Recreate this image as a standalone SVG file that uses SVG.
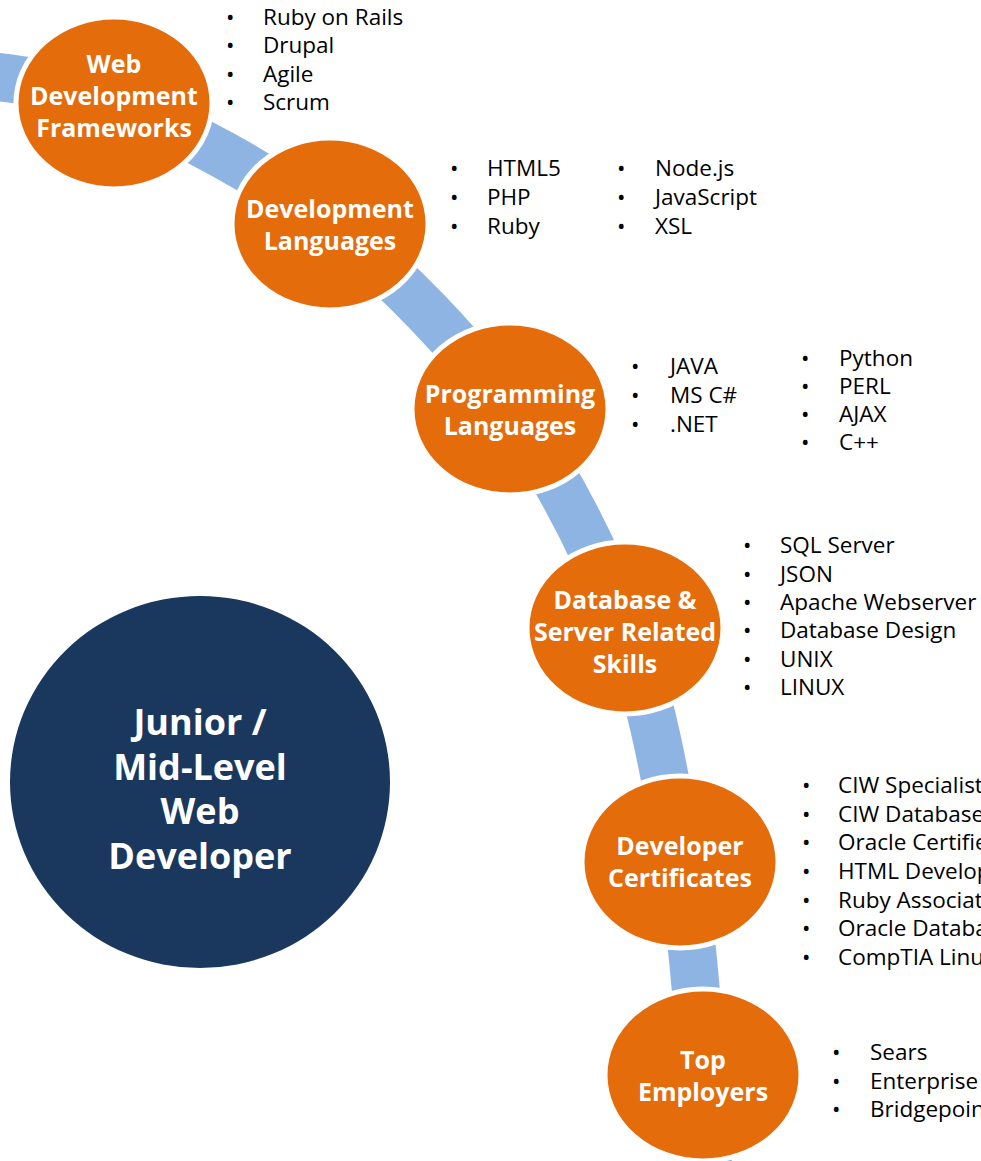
<svg xmlns="http://www.w3.org/2000/svg" width="981" height="1161" viewBox="0 0 981 1161">
<style>
.node{fill:#E46C0A;stroke:#FFFFFF;stroke-width:5}
.nt{font-family:"Open Sans","Noto Sans",sans-serif;font-weight:bold;font-size:25px;fill:#FFFFFF;text-anchor:middle}
.big{font-family:"Open Sans","Noto Sans",sans-serif;font-weight:bold;font-size:36px;fill:#FFFFFF;text-anchor:middle}
.li{font-family:"Open Sans","Noto Sans",sans-serif;font-size:22.5px;fill:#000000}
.band{fill:none;stroke:#8EB4E3;stroke-width:48}
</style>
<rect width="981" height="1161" fill="#FFFFFF"/>
<g id="connectors">
<path class="band" d="M -60 70 C -31 75.5 49 77.3 114 103 C 179 128.7 264 172.8 330 224 C 396 275.2 460.8 342.7 510 410 C 559.2 477.3 596.7 552.7 625 628 C 653.3 703.3 667 787.5 680 862 C 693 936.5 697.2 1010.3 703 1075 L 710 1200"/>
</g>
<g id="main">
<ellipse cx="200" cy="782" rx="190" ry="186" fill="#1A375E"/>
<text class="big" x="200" y="735">Junior /</text>
<text class="big" x="200" y="780">Mid-Level</text>
<text class="big" x="200" y="824">Web</text>
<text class="big" x="200" y="869">Developer</text>
</g>
<g id="web-frameworks">
<ellipse class="node" cx="114" cy="103" rx="98" ry="86"/>
<text class="nt" x="114" y="73">Web</text>
<text class="nt" x="114" y="105">Development</text>
<text class="nt" x="114" y="137">Frameworks</text>
<g class="li"><text x="226" y="25">•</text><text x="263" y="25">Ruby on Rails</text>
<text x="226" y="53">•</text><text x="263" y="53">Drupal</text>
<text x="226" y="82">•</text><text x="263" y="82">Agile</text>
<text x="226" y="110">•</text><text x="263" y="110">Scrum</text></g>
</g>
<g id="dev-languages">
<ellipse class="node" cx="330" cy="224" rx="98" ry="86"/>
<text class="nt" x="330" y="218">Development</text>
<text class="nt" x="330" y="250">Languages</text>
<g class="li"><text x="450" y="176">•</text><text x="487" y="176">HTML5</text>
<text x="450" y="205">•</text><text x="487" y="205">PHP</text>
<text x="450" y="234">•</text><text x="487" y="234">Ruby</text>
<text x="617" y="176">•</text><text x="655" y="176">Node.js</text>
<text x="617" y="205">•</text><text x="655" y="205">JavaScript</text>
<text x="617" y="234">•</text><text x="655" y="234">XSL</text></g>
</g>
<g id="prog-languages">
<ellipse class="node" cx="510" cy="409" rx="98" ry="86"/>
<text class="nt" x="510" y="403">Programming</text>
<text class="nt" x="510" y="435">Languages</text>
<g class="li"><text x="631" y="374">•</text><text x="670" y="374">JAVA</text>
<text x="631" y="403">•</text><text x="670" y="403">MS C#</text>
<text x="631" y="432">•</text><text x="670" y="432">.NET</text>
<text x="801" y="366">•</text><text x="839" y="366">Python</text>
<text x="801" y="394">•</text><text x="839" y="394">PERL</text>
<text x="801" y="422">•</text><text x="839" y="422">AJAX</text>
<text x="801" y="450">•</text><text x="839" y="450">C++</text></g>
</g>
<g id="database">
<ellipse class="node" cx="625" cy="628" rx="98" ry="86"/>
<text class="nt" x="625" y="609">Database &amp;</text>
<text class="nt" x="625" y="641">Server Related</text>
<text class="nt" x="625" y="673">Skills</text>
<g class="li"><text x="743" y="553">•</text><text x="780" y="553">SQL Server</text>
<text x="743" y="582">•</text><text x="780" y="582">JSON</text>
<text x="743" y="610">•</text><text x="780" y="610">Apache Webserver</text>
<text x="743" y="638">•</text><text x="780" y="638">Database Design</text>
<text x="743" y="667">•</text><text x="780" y="667">UNIX</text>
<text x="743" y="695">•</text><text x="780" y="695">LINUX</text></g>
</g>
<g id="certificates">
<ellipse class="node" cx="680" cy="862" rx="98" ry="86"/>
<text class="nt" x="680" y="855">Developer</text>
<text class="nt" x="680" y="887">Certificates</text>
<g class="li"><text x="802" y="793">•</text><text x="838" y="793">CIW Specialist</text>
<text x="802" y="822">•</text><text x="838" y="822">CIW Database</text>
<text x="802" y="850">•</text><text x="838" y="850">Oracle Certified</text>
<text x="802" y="879">•</text><text x="838" y="879">HTML Developer</text>
<text x="802" y="908">•</text><text x="838" y="908">Ruby Association</text>
<text x="802" y="936">•</text><text x="838" y="936">Oracle Database</text>
<text x="802" y="965">•</text><text x="838" y="965">CompTIA Linux</text></g>
</g>
<g id="employers">
<ellipse class="node" cx="703" cy="1075" rx="98" ry="86"/>
<text class="nt" x="703" y="1069">Top</text>
<text class="nt" x="703" y="1101">Employers</text>
<g class="li"><text x="832" y="1060">•</text><text x="870" y="1060">Sears</text>
<text x="832" y="1089">•</text><text x="870" y="1089">Enterprise</text>
<text x="832" y="1117">•</text><text x="870" y="1117">Bridgepoint</text></g>
</g>
</svg>
